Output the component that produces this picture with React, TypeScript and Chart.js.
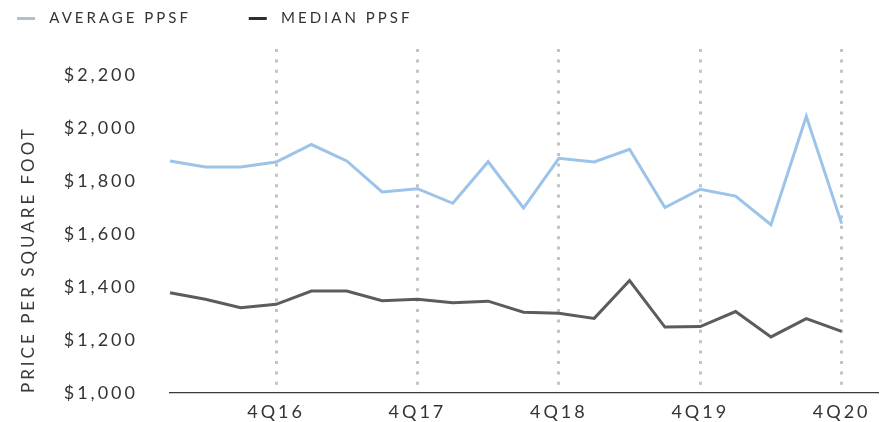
import React, { useEffect, useRef } from 'react';
import { Chart, registerables } from 'chart.js';

Chart.register(...registerables);

// Quarters 1Q16 .. 4Q20, plus one empty slot so the axis runs past 4Q20
const quarters = [
  '1Q16', '2Q16', '3Q16', '4Q16',
  '1Q17', '2Q17', '3Q17', '4Q17',
  '1Q18', '2Q18', '3Q18', '4Q18',
  '1Q19', '2Q19', '3Q19', '4Q19',
  '1Q20', '2Q20', '3Q20', '4Q20',
  '',
];

const averagePpsf = [
  1877, 1854, 1854, 1873,
  1939, 1877, 1760, 1772,
  1717, 1874, 1699, 1887,
  1873, 1921, 1701, 1770,
  1744, 1636, 2046, 1640,
];

const medianPpsf = [
  1379, 1354, 1322, 1335,
  1385, 1385, 1349, 1354,
  1341, 1347, 1305, 1301,
  1282, 1425, 1249, 1251,
  1308, 1212, 1281, 1233,
];

const seriesNames = ['AVERAGE PPSF', 'MEDIAN PPSF'];
const seriesColors = ['#9cc3e8', '#5c5c5c'];
const legendColors = ['#a8c2d8', '#2e2e2e'];

const yMin = 1000;
const yMax = 2300;
const yStep = 200;
const yTitle = 'PRICE PER SQUARE FOOT';

const FONT = 'Lato, "Open Sans", sans-serif';
const TEXT = '#333333';
const SPACING = '3px';

const spacingPlugin = {
  id: 'letterSpacing',
  beforeUpdate(chart: any) { chart.ctx.letterSpacing = SPACING; },
  beforeLayout(chart: any) { chart.ctx.letterSpacing = SPACING; },
  beforeDraw(chart: any) { chart.ctx.letterSpacing = SPACING; },
};

export default function App() {
  const ref = useRef<HTMLCanvasElement | null>(null);

  useEffect(() => {
    if (!ref.current) return;
    const chart = new Chart(ref.current, {
      type: 'line',
      data: {
        labels: quarters,
        datasets: [
          {
            label: seriesNames[0],
            data: averagePpsf,
            borderColor: seriesColors[0],
            backgroundColor: seriesColors[0],
            borderWidth: 3,
            pointRadius: 0,
            tension: 0,
            fill: false,
          },
          {
            label: seriesNames[1],
            data: medianPpsf,
            borderColor: seriesColors[1],
            backgroundColor: seriesColors[1],
            borderWidth: 3,
            pointRadius: 0,
            tension: 0,
            fill: false,
          },
        ],
      },
      options: {
        animation: false,
        responsive: false,
        maintainAspectRatio: false,
        devicePixelRatio: 1,
        layout: { padding: { left: 7, right: 14, top: 1, bottom: 0 } },
        plugins: {
          tooltip: { enabled: false },
          legend: {
            display: true,
            position: 'top',
            align: 'start',
            labels: {
              boxWidth: 18,
              boxHeight: 3,
              padding: 10,
              color: TEXT,
              font: { family: FONT, size: 15 },
              generateLabels: (c: any) =>
                Chart.defaults.plugins.legend.labels
                  .generateLabels(c)
                  .map((item: any, i: number) => ({
                    ...item,
                    text: ' ' + item.text + '       ',
                    fillStyle: legendColors[i],
                    strokeStyle: legendColors[i],
                    lineWidth: 0,
                  })),
            },
          },
          title: {
            display: true,
            text: '',
            weight: 500,
            font: { size: 1, lineHeight: 1 },
            padding: { top: 12, bottom: 0 },
          },
        },
        scales: {
          x: {
            type: 'category',
            offset: false,
            afterFit: (scale: any) => { scale.height = 29; },
            grid: {
              display: true,
              drawOnChartArea: true,
              drawTicks: false,
              lineWidth: 3,
              color: (ctx: any) =>
                ctx.tick && String(quarters[ctx.index] || '').startsWith('4Q')
                  ? '#c2c2c2'
                  : 'rgba(0,0,0,0)',
            },
            border: {
              display: true,
              color: '#3a3a3a',
              width: 1.2,
              dash: [3, 7.4],
            },
            ticks: {
              autoSkip: false,
              maxRotation: 0,
              minRotation: 0,
              padding: 8,
              color: TEXT,
              font: { family: FONT, size: 18 },
              callback: (_v: any, i: number) =>
                String(quarters[i] || '').startsWith('4Q') ? quarters[i] : '',
            },
          },
          y: {
            min: yMin,
            max: yMax,
            afterFit: (scale: any) => {
              scale.width = 163;
              scale.paddingTop = 0;
              scale.paddingBottom = 0;
            },
            grid: { display: false, drawTicks: false },
            border: { display: false },
            ticks: {
              stepSize: yStep,
              includeBounds: false,
              padding: 32,
              color: TEXT,
              font: { family: FONT, size: 18 },
              callback: (v: any) => '$' + Number(v).toLocaleString('en-US'),
            },
            title: {
              display: true,
              text: yTitle,
              align: 'start',
              color: '#3a3a3a',
              font: { family: FONT, size: 17, lineHeight: 1.2 },
              padding: { top: 11, bottom: 0 },
            },
          },
        },
      },
      plugins: [spacingPlugin],
    } as any);
    return () => chart.destroy();
  }, []);

  return (
    <div style={{ position: 'absolute', left: 0, top: 0, width: 891, height: 422, background: '#ffffff', overflow: 'hidden' }}>
      <canvas ref={ref} width={891} height={422} style={{ display: 'block', width: 891, height: 422 }} />
    </div>
  );
}
